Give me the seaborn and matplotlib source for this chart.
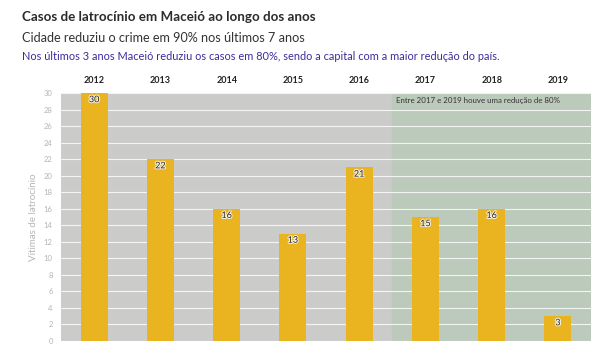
import matplotlib
matplotlib.use("Agg")
import matplotlib.pyplot as plt
import matplotlib.patheffects as pe
import seaborn as sns
import pandas as pd

# data
years = ["2012", "2013", "2014", "2015", "2016", "2017", "2018", "2019"]
victims = [30, 22, 16, 13, 21, 15, 16, 3]

title = "Casos de latrocínio em Maceió ao longo dos anos"
subtitle = "Cidade reduziu o crime em 90% nos últimos 7 anos"
note = "Nos últimos 3 anos Maceió reduziu os casos em 80%, sendo a capital com a maior redução do país."
band_text = "Entre 2017 e 2019 houve uma redução de 80%"

df = pd.DataFrame({"ano": years, "vitimas": victims})

sns.set_style("white")
plt.rcParams["font.family"] = ["Lato", "DejaVu Sans"]

fig = plt.figure(figsize=(6, 3.58), dpi=100)
ax = fig.add_axes([0.1017, 0.0475, 0.8833, 0.6925])

ax.set_facecolor("#cbcbc9")
ax.axvspan(4.5, 7.5, color="#bccabb", zorder=0)

sns.barplot(data=df, x="ano", y="vitimas", color="#eab320", width=0.41,
            saturation=1, linewidth=0, ax=ax, zorder=3)

ax.set_xlim(-0.5, 7.5)
ax.set_ylim(0, 30)
ax.set_yticks(range(0, 31, 2))
ax.grid(axis="y", color="white", linewidth=0.8, alpha=0.8, zorder=1)
ax.set_axisbelow(True)
for s in ax.spines.values():
    s.set_visible(False)

ax.xaxis.tick_top()
ax.tick_params(axis="x", length=0, pad=6, labelsize=6.5, labelcolor="#222222")
for t in ax.get_xticklabels():
    t.set_fontweight("bold")
ax.tick_params(axis="y", length=0, pad=6, labelsize=5.5, labelcolor="#b5b5b5")
ax.set_xlabel("")
ax.set_ylabel("Vítimas de latrocínio", fontsize=7, color="#b5b5b5", labelpad=4)

for cont in ax.containers:
    labels = ax.bar_label(cont, padding=-8, fontsize=6.5, color="#222222")
    for lb in labels:
        lb.set_path_effects([pe.withStroke(linewidth=1.5, foreground="#f4f0e0")])

ax.text(4.55, 29.1, band_text, fontsize=5.7, color="#333333", va="center", ha="left")

fig.text(0.037, 0.953, title, fontsize=9.6, fontweight="bold", color="#2b2b2b", va="center")
fig.text(0.037, 0.895, subtitle, fontsize=9.1, color="#333333", va="center")
fig.text(0.037, 0.842, note, fontsize=7.9, color="#3a2d9c", va="center")

fig.savefig("out.png", dpi=100, facecolor="white")
